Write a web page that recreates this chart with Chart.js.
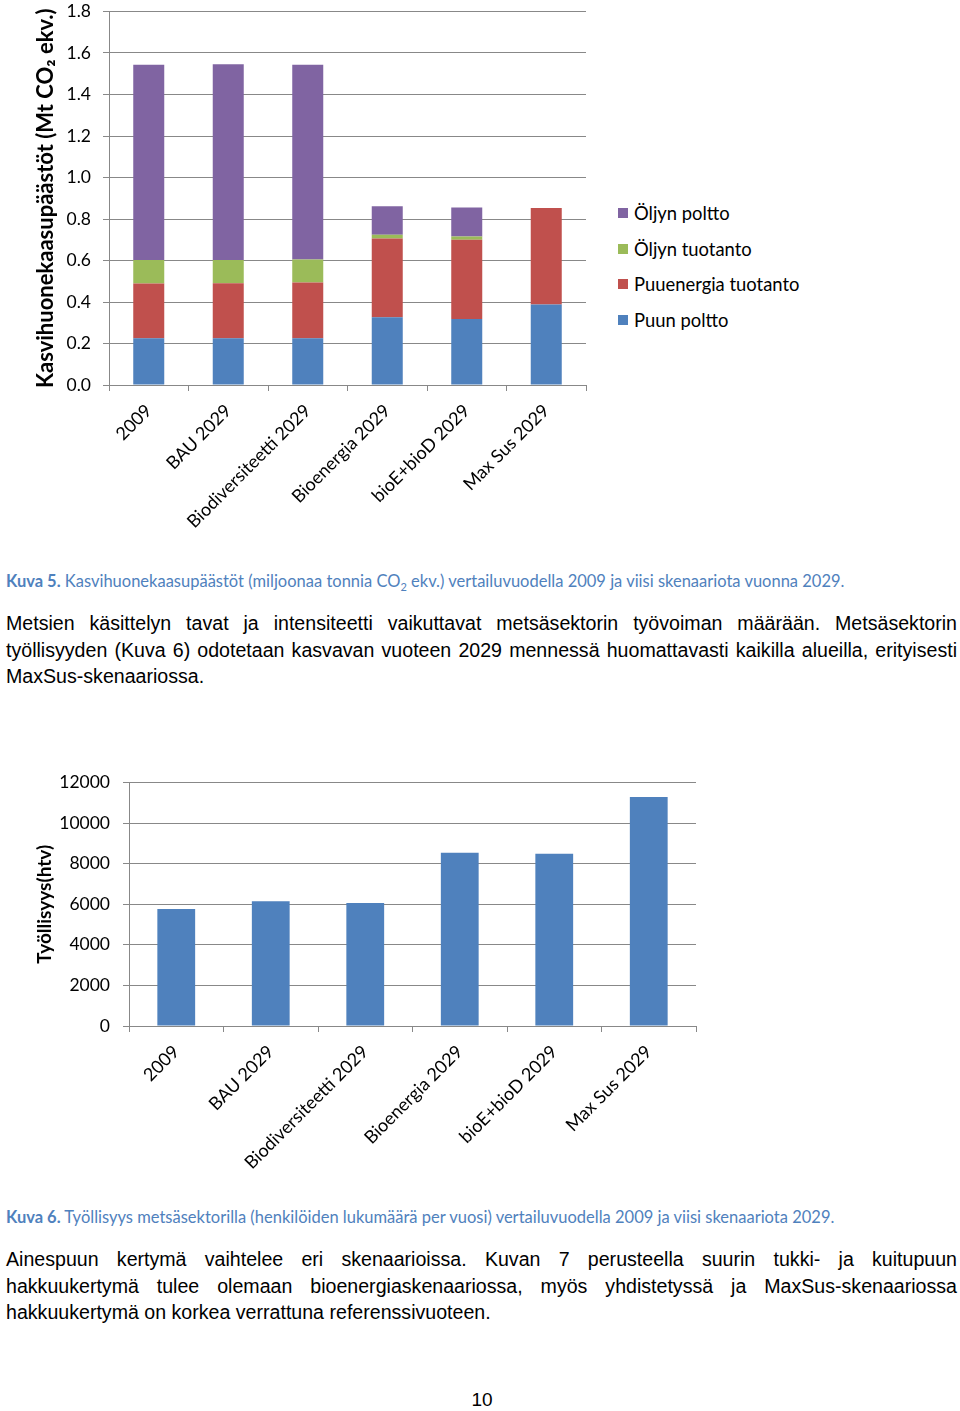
<!DOCTYPE html>
<html>
<head>
<meta charset="utf-8">
<script src="https://cdn.jsdelivr.net/npm/chart.js@4.4.0/dist/chart.umd.min.js"></script>
<style>
  body { margin: 0; background: #fff; width: 960px; height: 1411px; position: relative; overflow: hidden; }
  .abs { position: absolute; }
  #wrap1 { left: 0; top: -11px; width: 600px; height: 556px; }
  #wrap2 { left: 0; top: 759px; width: 710px; height: 432px; }
  #legend1 { left: 618px; top: 195px; font-family: Lato, sans-serif; font-size: 18.4px; color: #000; }
  #legend1 .row { height: 35.7px; display: flex; align-items: center; white-space: nowrap; }
  #legend1 .sw { width: 10px; height: 10px; margin-right: 6px; }
  .caption { left: 6px; font-family: Lato, sans-serif; font-size: 16.5px; color: #4F81BD; white-space: nowrap; }
  .caption b { font-weight: bold; }
  .para { left: 6px; width: 951px; font-family: 'Liberation Sans', Arial, sans-serif; font-size: 19.6px; line-height: 26.5px; color: #000; }
  .para .ln { text-align: justify; text-align-last: justify; white-space: nowrap; }
  .pagenum { left: 0; width: 964px; top: 1389px; text-align: center; font-family: 'Liberation Sans', Arial, sans-serif; font-size: 19px; }
</style>
</head>
<body>
<div id="wrap1" class="abs"><canvas id="chart1"></canvas></div>
<div id="legend1" class="abs"></div>
<div class="abs caption" style="top:571px"><b>Kuva 5.</b> Kasvihuonekaasupäästöt (miljoonaa tonnia CO<sub style="font-size:11px">2</sub> ekv.) vertailuvuodella 2009 ja viisi skenaariota vuonna 2029.</div>
<div class="abs para" style="top:610px">
  <div class="ln">Metsien käsittelyn tavat ja intensiteetti vaikuttavat metsäsektorin työvoiman määrään. Metsäsektorin</div>
  <div class="ln">työllisyyden (Kuva 6) odotetaan kasvavan vuoteen 2029 mennessä huomattavasti kaikilla alueilla, erityisesti</div>
  <div>MaxSus-skenaariossa.</div>
</div>
<div id="wrap2" class="abs"><canvas id="chart2"></canvas></div>
<div class="abs caption" style="top:1207px"><b>Kuva 6.</b> Työllisyys metsäsektorilla (henkilöiden lukumäärä per vuosi) vertailuvuodella 2009 ja viisi skenaariota 2029.</div>
<div class="abs para" style="top:1246px">
  <div class="ln">Ainespuun kertymä vaihtelee eri skenaarioissa. Kuvan 7 perusteella suurin tukki- ja kuitupuun</div>
  <div class="ln">hakkuukertymä tulee olemaan bioenergiaskenaariossa, myös yhdistetyssä ja MaxSus-skenaariossa</div>
  <div>hakkuukertymä on korkea verrattuna referenssivuoteen.</div>
</div>
<div class="abs pagenum">10</div>

<script>
'use strict';

// --- Data ---
const categories = ['2009', 'BAU 2029', 'Biodiversiteetti 2029', 'Bioenergia 2029', 'bioE+bioD 2029', 'Max Sus 2029'];
const puunPoltto = [0.225, 0.225, 0.225, 0.326, 0.318, 0.388];
const puuenergiaTuotanto = [0.264, 0.265, 0.269, 0.380, 0.382, 0.465];
const oljynTuotanto = [0.113, 0.112, 0.111, 0.018, 0.016, 0];
const oljynPoltto = [0.941, 0.944, 0.938, 0.137, 0.139, 0];
const tyollisyys = [5760, 6150, 6060, 8540, 8490, 11280];

const co2Title = 'Kasvihuonekaasupäästöt (Mt CO₂ ekv.)';
const jobsTitle = 'Työllisyys(htv)';

// --- Shared styles ---
const gridGray = '#888888';
Chart.defaults.font.family = 'Lato, sans-serif';
Chart.defaults.color = '#000';
Chart.defaults.animation = false;

const series = [
  { label: 'Puun poltto', data: puunPoltto, color: '#4F81BD' },
  { label: 'Puuenergia tuotanto', data: puuenergiaTuotanto, color: '#C0504D' },
  { label: 'Öljyn tuotanto', data: oljynTuotanto, color: '#9BBB59' },
  { label: 'Öljyn poltto', data: oljynPoltto, color: '#8064A2' }
];

function xAxis(height) {
  return {
    stacked: true,
    grid: { display: true, drawOnChartArea: false, drawTicks: true, tickLength: 6, color: gridGray, offset: true },
    border: { display: true, color: gridGray },
    ticks: { font: { size: 18 }, color: '#000', minRotation: 45, maxRotation: 45, autoSkip: false, padding: 9 },
    afterFit: scale => { scale.height = height; }
  };
}

function yAxis(width, title, titleSize, titlePad, opts) {
  return Object.assign({
    beginAtZero: true,
    grid: { color: gridGray, tickLength: 6, drawTicks: true },
    border: { display: true, color: gridGray },
    title: { display: true, text: title, font: { size: titleSize, weight: 'bold' }, color: '#000', padding: { top: titlePad, bottom: 0 } },
    afterFit: scale => { scale.width = width; }
  }, opts);
}

// --- Chart 1: stacked emissions ---
function setupChart1() {
  new Chart(document.getElementById('chart1'), {
    type: 'bar',
    data: {
      labels: categories,
      datasets: series.map(s => ({
        label: s.label, data: s.data, backgroundColor: s.color,
        barPercentage: 0.39, categoryPercentage: 1
      }))
    },
    options: {
      responsive: true, maintainAspectRatio: false,
      layout: { padding: { top: 0, right: 14, left: 0, bottom: 0 } },
      plugins: { legend: { display: false }, tooltip: { enabled: false } },
      scales: {
        x: xAxis(160),
        y: yAxis(109, co2Title, 22, 33, {
          stacked: true, min: 0, max: 1.8,
          ticks: { stepSize: 0.2, font: { size: 17.5 }, color: '#000', padding: 12, callback: v => v.toFixed(1) }
        })
      }
    }
  });

  // legend, top to bottom = reverse of stack order
  const legend = document.getElementById('legend1');
  series.slice().reverse().forEach(s => {
    const row = document.createElement('div');
    row.className = 'row';
    row.innerHTML = '<span class="sw" style="background:' + s.color + '"></span>' + s.label;
    legend.appendChild(row);
  });
}

// --- Chart 2: employment ---
function setupChart2() {
  new Chart(document.getElementById('chart2'), {
    type: 'bar',
    data: {
      labels: categories,
      datasets: [{ label: jobsTitle, data: tyollisyys, backgroundColor: '#4F81BD', barPercentage: 0.4, categoryPercentage: 1 }]
    },
    options: {
      responsive: true, maintainAspectRatio: false,
      layout: { padding: { top: 0, right: 14, left: 0, bottom: 0 } },
      plugins: { legend: { display: false }, tooltip: { enabled: false } },
      scales: {
        x: xAxis(165),
        y: yAxis(129, jobsTitle, 19, 33, {
          min: 0, max: 12000,
          ticks: { stepSize: 2000, font: { size: 17.5 }, color: '#000', padding: 13, callback: v => String(v) }
        })
      }
    }
  });
}

setupChart1();
setupChart2();
</script>
</body>
</html>
